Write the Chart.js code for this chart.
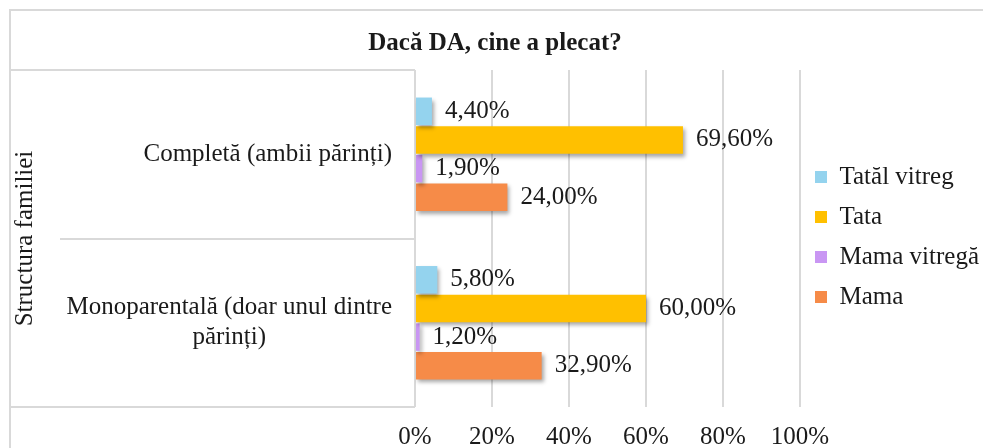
<!DOCTYPE html>
<html>
<head>
<meta charset="utf-8">
<script src="https://cdn.jsdelivr.net/npm/chart.js@4/dist/chart.umd.min.js"></script>
<style>
  html, body { margin: 0; padding: 0; background: #fff; }
  #wrap { width: 983px; height: 448px; }
</style>
</head>
<body>
<div id="wrap"><canvas id="chart" width="983" height="448"></canvas></div>
<script>
const titleText = "Dacă DA, cine a plecat?"
const axisTitle = "Structura familiei"
const categories = [
  "Completă (ambii părinți)",
  ["Monoparentală (doar unul dintre", "părinți)"]
]
const seriesNames = ["Tatăl vitreg", "Tata", "Mama vitregă", "Mama"]
const tatalVitreg = [4.4, 5.8]
const tata = [69.6, 60.0]
const mamaVitrega = [1.9, 1.2]
const mama = [24.0, 32.9]
const xTicks = [0, 20, 40, 60, 80, 100]

const colors = ["#94d3ee", "#ffc000", "#c996f3", "#f68b48"]
const serif = "'Liberation Serif', 'Times New Roman', serif"
const ink = "#1a1a1a"
const gridColor = "#d9d9d9"
const fontSize = 25

// frame round the whole chart, like the office export
const framePlugin = {
  id: "frame",
  beforeDraw(chart) {
    const ctx = chart.ctx
    ctx.save()
    ctx.strokeStyle = gridColor
    ctx.lineWidth = 2
    ctx.strokeRect(10, 10, 1000, 500)
    ctx.restore()
  }
}

// separator lines between categories, in the label area
const categoryLines = {
  id: "categoryLines",
  afterDraw(chart) {
    const y = chart.scales.y
    const ctx = chart.ctx
    ctx.save()
    ctx.strokeStyle = gridColor
    ctx.lineWidth = 2
    for (let i = 0; i <= categories.length; i++) {
      const py = Math.round(y.getPixelForValue(i - 0.5))
      const startX = (i === 0 || i === categories.length) ? 10 : 60
      ctx.beginPath()
      ctx.moveTo(startX, py)
      ctx.lineTo(chart.chartArea.left, py)
      ctx.stroke()
    }
    ctx.restore()
  }
}

// category labels: block right aligned, lines centred in the block
const categoryLabels = {
  id: "categoryLabels",
  afterDraw(chart) {
    const y = chart.scales.y
    const ctx = chart.ctx
    const right = chart.chartArea.left - 23
    const lineH = 30
    ctx.save()
    ctx.font = fontSize + "px " + serif
    ctx.fillStyle = ink
    ctx.textAlign = "center"
    ctx.textBaseline = "middle"
    categories.forEach((cat, i) => {
      const lines = Array.isArray(cat) ? cat : [cat]
      const widest = Math.max(...lines.map(l => ctx.measureText(l).width))
      const cx = right - widest / 2
      const cy = y.getPixelForValue(i)
      const top = cy - (lines.length - 1) * lineH / 2
      lines.forEach((l, j) => ctx.fillText(l, cx, top + j * lineH))
    })
    ctx.restore()
  }
}

const barShadow = {
  id: "barShadow",
  beforeDatasetsDraw(chart) {
    const ctx = chart.ctx
    ctx.save()
    ctx.shadowColor = "rgba(0, 0, 0, 0.35)"
    ctx.shadowOffsetX = 2
    ctx.shadowOffsetY = 3
    ctx.shadowBlur = 4
  },
  afterDatasetsDraw(chart) {
    chart.ctx.restore()
  }
}

const valueLabels = {
  id: "valueLabels",
  afterDatasetsDraw(chart) {
    const ctx = chart.ctx
    ctx.save()
    ctx.font = fontSize + "px " + serif
    ctx.fillStyle = ink
    ctx.textAlign = "left"
    ctx.textBaseline = "middle"
    chart.data.datasets.forEach((ds, di) => {
      chart.getDatasetMeta(di).data.forEach((bar, i) => {
        const txt = ds.data[i].toFixed(2).replace(".", ",") + "%"
        ctx.fillText(txt, bar.x + 13, bar.y)
      })
    })
    ctx.restore()
  }
}

const seriesData = [tatalVitreg, tata, mamaVitrega, mama]

new Chart(document.getElementById("chart"), {
  type: "bar",
  data: {
    labels: categories,
    datasets: seriesNames.map((name, i) => ({
      label: name,
      data: seriesData[i],
      backgroundColor: colors[i],
      borderWidth: 0,
      categoryPercentage: 0.68,
      barPercentage: 0.96
    }))
  },
  options: {
    indexAxis: "y",
    responsive: false,
    animation: false,
    layout: {
      padding: { top: 10, left: 10, right: 3, bottom: 0 }
    },
    scales: {
      x: {
        min: 0,
        max: 100,
        afterBuildTicks(scale) {
          scale.ticks = xTicks.map(v => ({ value: v }))
        },
        afterFit(scale) {
          scale.height = 41
        },
        ticks: {
          callback: v => v + "%",
          font: { family: serif, size: fontSize, lineHeight: 1 },
          color: ink,
          padding: 18,
          maxRotation: 0,
          autoSkip: false
        },
        grid: {
          color: gridColor,
          lineWidth: 2,
          drawTicks: false
        },
        border: { display: false }
      },
      y: {
        afterFit(scale) {
          scale.width = 405
        },
        ticks: { display: false },
        grid: { display: false },
        border: { display: false },
        title: {
          display: true,
          text: axisTitle,
          font: { family: serif, size: fontSize, lineHeight: 1 },
          color: ink,
          padding: { top: 3, bottom: 0 }
        }
      }
    },
    plugins: {
      title: {
        display: true,
        text: titleText,
        font: { family: serif, size: fontSize, weight: "bold", lineHeight: 1.2 },
        color: ink,
        padding: { top: 19, bottom: 11 }
      },
      legend: {
        position: "right",
        maxWidth: 180,
        // empty title only pushes the items down to the plot's middle
        title: {
          display: true,
          text: " ",
          font: { family: serif, size: 16, lineHeight: 1 },
          padding: 0
        },
        labels: {
          font: { family: serif, size: fontSize },
          color: ink,
          boxWidth: 12,
          boxHeight: 12,
          padding: 15
        }
      },
      tooltip: { enabled: false }
    }
  },
  plugins: [framePlugin, barShadow, valueLabels, categoryLines, categoryLabels]
})
</script>
</body>
</html>
